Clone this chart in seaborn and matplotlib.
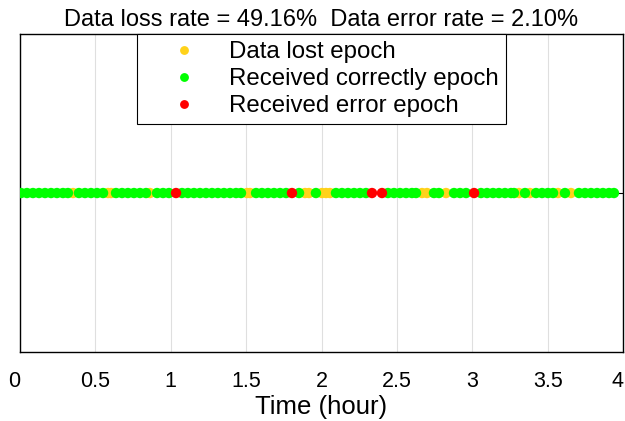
import matplotlib
matplotlib.use("Agg")
import matplotlib.pyplot as plt
import matplotlib.transforms as mtransforms
import seaborn as sns
import pandas as pd

# Epoch times (hours) by reception status
lost_times = [0.352, 0.584, 0.604, 0.862, 1.506, 1.526, 1.891, 1.917,
              2.003, 2.030, 2.056, 2.667, 2.700, 2.826, 3.310, 3.383,
              3.569, 3.655]
correct_times = [0.007, 0.046, 0.086, 0.126, 0.166, 0.206, 0.245, 0.285, 0.318,
                 0.391, 0.431, 0.471, 0.511, 0.551,
                 0.637, 0.677, 0.716, 0.756, 0.796, 0.836,
                 0.909, 0.949, 0.988, 1.075, 1.114, 1.154, 1.194, 1.234, 1.274,
                 1.313, 1.353, 1.393, 1.433, 1.466,
                 1.566, 1.605, 1.645, 1.685, 1.725, 1.765, 1.851,
                 1.963,
                 2.096, 2.136, 2.176, 2.216, 2.255, 2.295, 2.441, 2.481, 2.521,
                 2.561, 2.600, 2.627,
                 2.746, 2.779,
                 2.879, 2.919, 2.959, 3.058, 3.098, 3.138, 3.177, 3.217, 3.257, 3.277,
                 3.350,
                 3.423, 3.463, 3.502, 3.536,
                 3.615,
                 3.708, 3.748, 3.788, 3.828, 3.867, 3.907, 3.940]
error_times = [1.035, 1.804, 2.335, 2.401, 3.012]

labels = ["Data lost epoch", "Received correctly epoch", "Received error epoch"]
colors = ["#FFD21A", "#00FF00", "#FF0000"]
loss_rate = 49.16
error_rate = 2.10
x_ticks = [0, 0.5, 1, 1.5, 2, 2.5, 3, 3.5, 4]
x_tick_labels = ["0", "0.5", "1", "1.5", "2", "2.5", "3", "3.5", "4"]

df = pd.DataFrame({
    "time": lost_times + correct_times + error_times,
    "status": ([labels[0]] * len(lost_times) + [labels[1]] * len(correct_times)
               + [labels[2]] * len(error_times)),
})
df["y"] = 0.0

sns.set_style("white")
plt.rcParams["font.family"] = ["Liberation Sans", "DejaVu Sans"]
plt.rcParams["text.color"] = "black"
plt.rcParams["axes.labelcolor"] = "black"
plt.rcParams["xtick.color"] = "black"
plt.rcParams["ytick.color"] = "black"

fig = plt.figure(figsize=(6.25, 4.21), dpi=100)
ax = fig.add_axes([0.032, 0.164, 0.9648, 0.755])

sns.scatterplot(data=df, x="time", y="y", hue="status", hue_order=labels,
                palette=dict(zip(labels, colors)), s=56, linewidth=0,
                ax=ax, legend=True, zorder=3)

ax.set_xlim(0, 4)
ax.set_ylim(-1, 1)
ax.set_xticks(x_ticks)
ax.set_xticklabels(x_tick_labels, fontsize=15.5)
ax.set_yticks([0])
ax.set_yticklabels([])
ax.tick_params(axis="x", direction="in", length=5, width=0.8, pad=14, colors="black")
ax.tick_params(axis="y", direction="in", length=5, width=0.8, left=True, right=True,
               colors="black")
ax.xaxis.grid(True, color="#DFDFDF", linewidth=0.8)
ax.yaxis.grid(False)
ax.set_axisbelow(True)
for sp in ax.spines.values():
    sp.set_visible(True)
    sp.set_color("black")
    sp.set_linewidth(1.0)

# keep the end tick labels inside the figure
shift = mtransforms.ScaledTranslation(-6 / 100, 0, fig.dpi_scale_trans)
tick_texts = ax.get_xticklabels()
for t in (tick_texts[0], tick_texts[-1]):
    t.set_transform(t.get_transform() + shift)

ax.set_xlabel("Time (hour)", fontsize=18.5, labelpad=2, color="black")
ax.set_ylabel("")
ax.set_title(f"Data loss rate = {loss_rate:.2f}%  Data error rate = {error_rate:.2f}%",
             fontsize=17, pad=6, color="black")

handles, _ = ax.get_legend_handles_labels()
leg = ax.legend(handles, labels, loc="upper center", fontsize=17.3, frameon=True,
                fancybox=False, framealpha=1, edgecolor="black", borderaxespad=0,
                labelspacing=0.2, handletextpad=0.25, borderpad=0.3,
                handlelength=3.3, markerscale=0.85)
leg.get_frame().set_linewidth(0.8)
for txt in leg.get_texts():
    txt.set_color("black")

fig.savefig("out.png", dpi=100)
